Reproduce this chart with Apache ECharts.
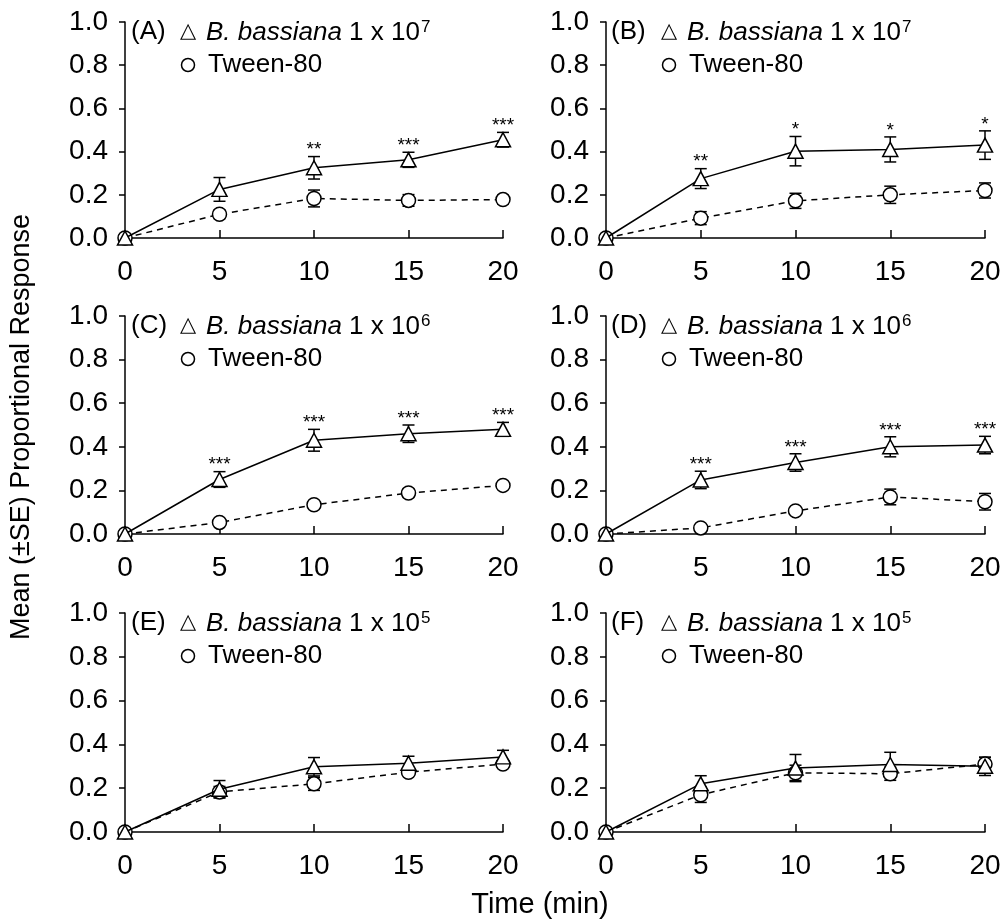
<!DOCTYPE html>
<html>
<head>
<meta charset="utf-8">
<script src="https://cdn.jsdelivr.net/npm/echarts@6/dist/echarts.min.js"></script>
<style>
html,body{margin:0;padding:0;background:#fff;}
#chart{width:1005px;height:924px;}
</style>
</head>
<body>
<div id="chart"></div>
<script>
// ---- data ----
const times = [0, 5, 10, 15, 20];
const xTicks = [0, 5, 10, 15, 20];
const yTicks = [0.0, 0.2, 0.4, 0.6, 0.8, 1.0];
const panelLabels = ['(A)', '(B)', '(C)', '(D)', '(E)', '(F)'];
const exponents = ['7', '7', '6', '6', '5', '5'];
const treatmentName = 'B. bassiana';
const controlName = 'Tween-80';

const bbA = [0, 0.225, 0.325, 0.362, 0.455];
const bbA_se = [0, 0.055, 0.052, 0.035, 0.034];
const twA = [0, 0.11, 0.183, 0.174, 0.178];
const twA_se = [0, 0.02, 0.039, 0.027, 0.02];
const starsA = ['', '', '**', '***', '***'];

const bbB = [0, 0.275, 0.402, 0.41, 0.43];
const bbB_se = [0, 0.046, 0.068, 0.058, 0.066];
const twB = [0, 0.092, 0.172, 0.2, 0.22];
const twB_se = [0, 0.03, 0.035, 0.04, 0.035];
const starsB = ['', '**', '*', '*', '*'];

const bbC = [0, 0.25, 0.43, 0.46, 0.48];
const bbC_se = [0, 0.036, 0.05, 0.04, 0.032];
const twC = [0, 0.053, 0.134, 0.188, 0.223];
const twC_se = [0, 0.012, 0.015, 0.02, 0.015];
const starsC = ['', '***', '***', '***', '***'];

const bbD = [0, 0.248, 0.328, 0.4, 0.408];
const bbD_se = [0, 0.04, 0.04, 0.046, 0.04];
const twD = [0, 0.028, 0.106, 0.17, 0.148];
const twD_se = [0, 0.01, 0.015, 0.036, 0.038];
const starsD = ['', '***', '***', '***', '***'];

const bbE = [0, 0.195, 0.298, 0.314, 0.343];
const bbE_se = [0, 0.04, 0.042, 0.032, 0.03];
const twE = [0, 0.183, 0.22, 0.273, 0.31];
const twE_se = [0, 0.025, 0.03, 0.015, 0.015];
const starsE = ['', '', '', '', ''];

const bbF = [0, 0.22, 0.292, 0.308, 0.30];
const bbF_se = [0, 0.037, 0.062, 0.056, 0.042];
const twF = [0, 0.17, 0.27, 0.266, 0.31];
const twF_se = [0, 0.035, 0.035, 0.03, 0.03];
const starsF = ['', '', '', '', ''];

const panels = [
  {bb: bbA, bbSe: bbA_se, tw: twA, twSe: twA_se, stars: starsA},
  {bb: bbB, bbSe: bbB_se, tw: twB, twSe: twB_se, stars: starsB},
  {bb: bbC, bbSe: bbC_se, tw: twC, twSe: twC_se, stars: starsC},
  {bb: bbD, bbSe: bbD_se, tw: twD, twSe: twD_se, stars: starsD},
  {bb: bbE, bbSe: bbE_se, tw: twE, twSe: twE_se, stars: starsE},
  {bb: bbF, bbSe: bbF_se, tw: twF, twSe: twF_se, stars: starsF}
];

// ---- layout ----
const FONT = '"Liberation Sans", Arial, Helvetica, sans-serif';
const gridBoxes = [
  {left: 125, top: 22, width: 378, height: 216},
  {left: 606, top: 22, width: 379, height: 216},
  {left: 125, top: 316, width: 378, height: 218},
  {left: 606, top: 316, width: 379, height: 218},
  {left: 125, top: 613, width: 378, height: 219},
  {left: 606, top: 613, width: 379, height: 219}
];

function errorBarSeries(gi, means, ses, stars) {
  return {
    type: 'custom',
    xAxisIndex: gi, yAxisIndex: gi,
    z: 1,
    clip: false,
    silent: true,
    data: times.map((t, i) => [t, means[i], ses[i]]),
    renderItem: function (params, api) {
      const x = api.value(0), m = api.value(1), s = api.value(2);
      const children = [];
      const top = api.coord([x, m + s]);
      const bot = api.coord([x, m - s]);
      const cw = 6;
      const ls = {stroke: '#000', lineWidth: 1.5};
      if (s > 0) {
        children.push({type: 'line', shape: {x1: top[0], y1: top[1], x2: bot[0], y2: bot[1]}, style: ls});
        children.push({type: 'line', shape: {x1: top[0] - cw, y1: top[1], x2: top[0] + cw, y2: top[1]}, style: ls});
        children.push({type: 'line', shape: {x1: bot[0] - cw, y1: bot[1], x2: bot[0] + cw, y2: bot[1]}, style: ls});
      }
      const star = stars ? stars[params.dataIndex] : '';
      if (star) {
        children.push({
          type: 'text',
          style: {
            text: star, x: top[0], y: top[1] + 3,
            align: 'center', verticalAlign: 'bottom',
            fontSize: 19, fontFamily: FONT, fill: '#000'
          }
        });
      }
      return {type: 'group', children: children};
    }
  };
}

const grid = [], xAxis = [], yAxis = [], series = [], graphic = [];

panels.forEach((p, gi) => {
  const g = gridBoxes[gi];
  grid.push({left: g.left, top: g.top, width: g.width, height: g.height, containLabel: false});
  xAxis.push({
    gridIndex: gi, type: 'value', min: xTicks[0], max: xTicks[xTicks.length - 1], interval: 5,
    axisLine: {show: true, onZero: false, lineStyle: {color: '#000', width: 1.5}},
    axisTick: {show: true, inside: true, length: 8, lineStyle: {color: '#000', width: 1.5}},
    axisLabel: {fontSize: 28, color: '#000', margin: 20, fontFamily: FONT},
    splitLine: {show: false}
  });
  yAxis.push({
    gridIndex: gi, type: 'value', min: yTicks[0], max: yTicks[yTicks.length - 1], interval: 0.2,
    axisLine: {show: true, onZero: false, lineStyle: {color: '#000', width: 1.5}},
    axisTick: {show: true, inside: false, length: 6, lineStyle: {color: '#000', width: 1.5}},
    axisLabel: {fontSize: 28, color: '#000', margin: 17, fontFamily: FONT,
      formatter: v => v.toFixed(1)},
    splitLine: {show: false}
  });

  series.push(errorBarSeries(gi, p.tw, p.twSe, null));
  series.push(errorBarSeries(gi, p.bb, p.bbSe, p.stars));
  series.push({
    type: 'line', name: controlName, xAxisIndex: gi, yAxisIndex: gi, z: 3,
    clip: false, silent: true,
    data: times.map((t, i) => [t, p.tw[i]]),
    symbol: 'circle', symbolSize: 14,
    lineStyle: {color: '#000', width: 1.5, type: [6, 5]},
    itemStyle: {color: '#fff', borderColor: '#000', borderWidth: 1.5},
    animation: false
  });
  series.push({
    type: 'line', name: treatmentName, xAxisIndex: gi, yAxisIndex: gi, z: 4,
    clip: false, silent: true,
    data: times.map((t, i) => [t, p.bb[i]]),
    symbol: 'triangle', symbolSize: [15, 14],
    lineStyle: {color: '#000', width: 1.5},
    itemStyle: {color: '#fff', borderColor: '#000', borderWidth: 1.5},
    animation: false
  });

  // in-panel legend
  const isLeft = gi % 2 === 0;
  const x0 = g.left;
  const lab = isLeft ? 6 : 5;
  const y1 = g.top + 11, y2 = g.top + 44;
  graphic.push({
    type: 'text', left: x0 + lab, top: y1 - 14,
    style: {
      text: '{n|' + panelLabels[gi] + '}',
      rich: {n: {fontSize: 26, fontFamily: FONT, fill: '#000', lineHeight: 28}}
    }
  });
  graphic.push({
    type: 'text', x: x0 + 63, y: y1 - 1,
    style: {text: '\u25B3', fontSize: 21, fontFamily: '"DejaVu Sans"', fill: '#000',
      align: 'center', verticalAlign: 'middle'}
  });
  graphic.push({
    type: 'text', left: x0 + 81, top: y1 - 14,
    style: {
      text: '{i|' + treatmentName + '}{n| 1 x 10}{sup|' + exponents[gi] + '}',
      rich: {
        i: {fontSize: 26, fontStyle: 'italic', fontFamily: FONT, fill: '#000', lineHeight: 28},
        n: {fontSize: 26, fontFamily: FONT, fill: '#000', lineHeight: 28},
        sup: {fontSize: 17, fontFamily: FONT, fill: '#000', lineHeight: 28, verticalAlign: 'top', padding: [0, 0, 0, 1]}
      }
    }
  });
  graphic.push({
    type: 'circle', shape: {cx: x0 + 63, cy: y2 - 1, r: 6.5},
    style: {fill: '#fff', stroke: '#000', lineWidth: 1.5}
  });
  graphic.push({
    type: 'text', left: x0 + 83, top: y2 - 14,
    style: {
      text: '{n|' + controlName + '}',
      rich: {n: {fontSize: 26, fontFamily: FONT, fill: '#000', lineHeight: 28}}
    }
  });
});

graphic.push({
  type: 'text', x: 22, y: 427, rotation: Math.PI / 2,
  style: {text: 'Mean (\u00B1SE) Proportional Response', fontSize: 27, fontFamily: FONT, fill: '#000',
    align: 'center', verticalAlign: 'middle'}
});
graphic.push({
  type: 'text', x: 540, y: 905,
  style: {text: 'Time (min)', fontSize: 29, fontFamily: FONT, fill: '#000',
    align: 'center', verticalAlign: 'middle'}
});

const chart = echarts.init(document.getElementById('chart'), null, {renderer: 'canvas'});
chart.setOption({
  backgroundColor: '#fff',
  animation: false,
  grid: grid, xAxis: xAxis, yAxis: yAxis, series: series, graphic: graphic
});
</script>
</body>
</html>
